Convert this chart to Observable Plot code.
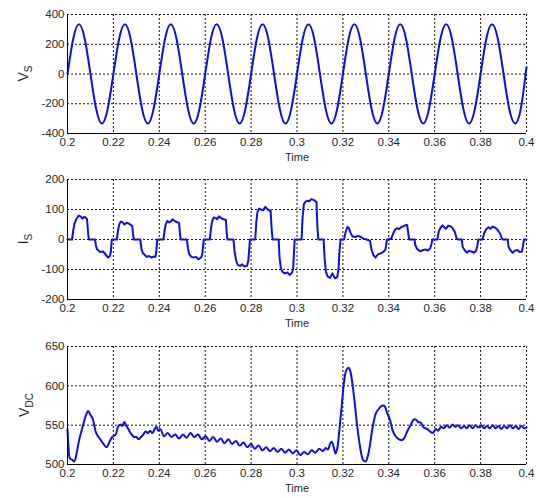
<!DOCTYPE html>
<html><head><meta charset="utf-8">
<script src="https://cdn.jsdelivr.net/npm/d3@7"></script>
<script src="https://cdn.jsdelivr.net/npm/@observablehq/plot@0.6"></script>
<style>
body{margin:0;background:#fff;font-family:"Liberation Sans",Arial,sans-serif;}
#wrap{position:relative;width:544px;height:498px;overflow:hidden;}
.panel{position:absolute;left:0;}
</style></head><body><div id="wrap"></div>
<script>
const xTicks = [0.2,0.22,0.24,0.26,0.28,0.3,0.32,0.34,0.36,0.38,0.4];
const vsTicks = [-400,-200,0,200,400];
const isTicks = [-200,-100,0,100,200];
const vdcTicks = [500,550,600,650];

// Vs (supply voltage)
const vsT = [0.2,0.2025,0.205,0.2075,0.21,0.2125,0.215,0.2175,
0.22,0.2225,0.225,0.2275,0.23,0.2325,0.235,0.2375,
0.24,0.2425,0.245,0.2475,0.25,0.2525,0.255,0.2575,
0.26,0.2625,0.265,0.2675,0.27,0.2725,0.275,0.2775,
0.28,0.2825,0.285,0.2875,0.29,0.2925,0.295,0.2975,
0.3,0.3025,0.305,0.3075,0.31,0.3125,0.315,0.3175,
0.32,0.3225,0.325,0.3275,0.33,0.3325,0.335,0.3375,
0.34,0.3425,0.345,0.3475,0.35,0.3525,0.355,0.3575,
0.36,0.3625,0.365,0.3675,0.37,0.3725,0.375,0.3775,
0.38,0.3825,0.385,0.3875,0.39,0.3925,0.395,0.3975,0.4];
const vsV = [0,237,335,237,0,-235,-332,-235,
0,237,335,237,0,-235,-332,-235,
0,237,335,237,0,-235,-332,-235,
0,237,335,237,0,-235,-332,-235,
0,237,335,237,0,-235,-332,-235,
0,237,335,237,0,-235,-332,-235,
0,237,335,237,0,-235,-332,-235,
0,237,335,237,0,-235,-332,-235,
0,237,335,237,0,-235,-332,-235,
0,237,335,237,0,-235,-332,-235,45];

// Is (supply current) [time, value]
const isPoints = [
[0.2000,0],[0.2020,0],[0.2025,30],[0.2030,52],[0.2040,70],[0.2049,80],[0.2058,76],[0.2065,70],[0.2072,75],[0.2078,74],[0.2085,68],[0.2090,20],[0.2093,0],
[0.2120,0],[0.2124,-20],[0.2128,-32],[0.2142,-42],[0.2155,-40],[0.2166,-50],[0.2177,-60],[0.2185,-55],[0.2189,-40],[0.2193,0],
[0.2215,0],[0.2220,30],[0.2226,52],[0.2232,60],[0.2240,57],[0.2248,50],[0.2258,56],[0.2268,53],[0.2282,45],[0.2286,15],[0.2289,0],
[0.2317,0],[0.2322,-30],[0.2328,-45],[0.2335,-50],[0.2345,-58],[0.2355,-55],[0.2365,-60],[0.2375,-57],[0.2383,-58],[0.2387,-40],[0.2391,0],
[0.2418,0],[0.2423,30],[0.2428,50],[0.2435,62],[0.2443,57],[0.2450,60],[0.2458,67],[0.2470,60],[0.2486,55],[0.2490,20],[0.2493,0],
[0.2520,0],[0.2525,-30],[0.2530,-48],[0.2540,-58],[0.2550,-60],[0.2560,-58],[0.2570,-66],[0.2582,-60],[0.2587,-50],[0.2591,-20],[0.2594,0],
[0.2620,0],[0.2625,35],[0.2630,60],[0.2637,73],[0.2645,72],[0.2652,68],[0.2660,77],[0.2672,70],[0.2690,65],[0.2694,20],[0.2697,0],
[0.2723,0],[0.2728,-40],[0.2735,-70],[0.2742,-85],[0.2752,-88],[0.2760,-83],[0.2772,-90],[0.2782,-88],[0.2788,-70],[0.2792,-30],[0.2795,0],
[0.2818,0],[0.2823,60],[0.2828,92],[0.2835,103],[0.2843,100],[0.2852,97],[0.2862,109],[0.2872,100],[0.2885,95],[0.2890,30],[0.2894,0],
[0.2920,0],[0.2924,-60],[0.2930,-97],[0.2937,-108],[0.2947,-113],[0.2958,-110],[0.2968,-118],[0.2977,-112],[0.2983,-100],[0.2987,-40],[0.2990,0],
[0.3020,0],[0.3024,70],[0.3030,118],[0.3037,126],[0.3045,129],[0.3052,127],[0.3062,134],[0.3072,132],[0.3085,125],[0.3089,40],[0.3093,0],
[0.3116,0],[0.3120,-60],[0.3126,-108],[0.3134,-124],[0.3144,-128],[0.3154,-113],[0.3165,-129],[0.3175,-126],[0.3181,-100],[0.3185,-40],[0.3190,0],
[0.3205,0],[0.3212,25],[0.3220,42],[0.3226,38],[0.3233,23],[0.3242,10],[0.3255,8],[0.3265,12],[0.3277,9],[0.3290,3],[0.3300,1],[0.3318,-4],[0.3325,-35],[0.3333,-52],[0.3342,-60],[0.3352,-50],[0.3362,-47],[0.3375,-42],[0.3385,-35],[0.3392,0],
[0.3400,0],[0.3412,5],[0.3418,18],[0.3425,30],[0.3435,38],[0.3445,35],[0.3455,42],[0.3465,44],[0.3475,49],[0.3480,48],[0.3485,20],[0.3489,0],
[0.3512,0],[0.3516,-20],[0.3522,-30],[0.3530,-36],[0.3540,-39],[0.3550,-35],[0.3560,-33],[0.3570,-37],[0.3580,-30],[0.3586,-15],[0.3590,0],
[0.3612,0],[0.3618,28],[0.3626,40],[0.3634,47],[0.3642,40],[0.3650,36],[0.3658,46],[0.3666,45],[0.3676,40],[0.3688,25],[0.3695,5],[0.3700,0],
[0.3718,0],[0.3722,-25],[0.3730,-35],[0.3740,-44],[0.3750,-38],[0.3760,-40],[0.3770,-44],[0.3780,-38],[0.3786,-20],[0.3790,0],
[0.3808,0],[0.3815,20],[0.3825,35],[0.3835,41],[0.3843,36],[0.3852,43],[0.3862,40],[0.3872,34],[0.3885,20],[0.3892,5],[0.3896,0],
[0.3918,0],[0.3922,-25],[0.3930,-36],[0.3940,-44],[0.3950,-37],[0.3960,-35],[0.3970,-42],[0.3980,-40],[0.3985,-20],[0.3989,0],[0.4000,0]
];

// Vdc (DC-link voltage) [time, value]
const vdcPoints = [
[0.2000,545],[0.2005,520],[0.2010,508],[0.2020,506],[0.2030,504],[0.2038,512],[0.2050,530],[0.2065,547],[0.2080,562],[0.2090,568],[0.2100,563],[0.2110,558],[0.2125,540],[0.2140,533],[0.2155,527],[0.2170,522],[0.2185,530],[0.2195,535],[0.2210,538],[0.2220,548],[0.2230,551],[0.2238,549],[0.2248,554],[0.2255,550],[0.2265,545],[0.2275,540],[0.2290,535],[0.2300,535],[0.2310,532],[0.2320,535],[0.2330,538],[0.2340,542],[0.2350,540],[0.2360,543],[0.2370,540],[0.2380,545],[0.2388,548],[0.2395,543],[0.2405,545],
[0.2420,536],[0.2437,540],[0.2453,535],[0.2470,538],[0.2486,533],[0.2503,538],[0.2519,534],[0.2536,540],[0.2552,535],[0.2569,538],[0.2585,532],[0.2602,536],[0.2618,530],[0.2635,535],[0.2651,529],[0.2668,533],[0.2684,527],[0.2701,532],[0.2717,526],[0.2734,530],[0.2750,524],[0.2767,528],[0.2783,522],[0.2800,526],[0.2816,520],[0.2833,524],[0.2849,518],[0.2866,522],[0.2882,517],[0.2899,521],[0.2915,516],[0.2932,520],[0.2948,515],[0.2965,519],[0.2981,514],[0.2998,518],[0.3014,512],[0.3031,516],[0.3047,513],[0.3064,518],[0.3080,515],[0.3097,520],[0.3113,517],[0.3125,521],[0.3135,519],[0.3145,527],[0.3152,529],[0.3160,522],[0.3168,514],[0.3175,520],
[0.3185,545],[0.3195,575],[0.3205,605],[0.3215,620],[0.3225,623],[0.3232,619],[0.3240,606],[0.3250,582],[0.3262,550],[0.3275,522],[0.3288,506],[0.3300,504],[0.3308,510],[0.3318,525],[0.3330,548],[0.3345,566],[0.3360,572],[0.3372,575],[0.3382,574],[0.3392,566],[0.3405,557],[0.3418,542],[0.3432,535],[0.3445,532],[0.3458,531],[0.3468,534],[0.3480,542],[0.3495,550],[0.3508,557],[0.3518,557],[0.3528,554],[0.3540,553],[0.3552,547],[0.3568,545],[0.3580,542],[0.3592,540],
[0.3605,545],[0.3615,543],[0.3628,548],[0.3640,546],[0.3652,550],[0.3665,547],[0.3678,551],[0.3690,548],[0.3702,550],[0.3715,546],[0.3728,549],[0.3740,546],[0.3752,550],[0.3765,546],[0.3778,550],[0.3790,547],[0.3803,550],[0.3815,546],[0.3828,549],[0.3840,546],[0.3853,550],[0.3865,546],[0.3878,549],[0.3890,545],[0.3903,549],[0.3915,546],[0.3928,550],[0.3940,546],[0.3953,549],[0.3965,545],[0.3978,549],[0.3990,546],[0.4000,547]
];

const vsPoints = vsT.map((t, i) => [t, vsV[i]]);

const LINE = "#0f0fdc";
const FONT = "Liberation Sans, Arial, sans-serif";

function panel({data, yDomain, yTicks, top, height, mTop, mBottom, main, sub, curve, labelX}) {
  const plot = Plot.plot({
    width: 544, height,
    marginLeft: 67, marginRight: 18, marginTop: mTop, marginBottom: mBottom,
    style: {fontFamily: FONT, fontSize: "11.5px", color: "#262626", background: "transparent", overflow: "visible"},
    x: {domain: [0.2, 0.4]},
    y: {domain: yDomain},
    marks: [
      Plot.ruleX(xTicks, {stroke: "#111", strokeWidth: 1, strokeDasharray: "2,2"}),
      Plot.ruleY(yTicks, {stroke: "#111", strokeWidth: 1, strokeDasharray: "2,2"}),
      Plot.axisX({ticks: xTicks, tickFormat: d => String(d), tickSize: 0, tickPadding: 4, label: null}),
      Plot.axisY({ticks: yTicks, tickFormat: d => String(d), tickSize: 0, tickPadding: 3, label: null}),
      Plot.line(data, {x: d => d[0], y: d => d[1], stroke: LINE, strokeWidth: 2, curve}),
      Plot.ruleX([0.2], {stroke: "#000", strokeWidth: 1}),
      Plot.ruleY([yDomain[0]], {stroke: "#000", strokeWidth: 1}),
      Plot.text(["Time"], {text: d => d, frameAnchor: "bottom", lineAnchor: "top", dy: 20, fontSize: 11, fill: "#262626"})
    ]
  });
  const div = document.createElement("div");
  div.className = "panel";
  div.style.top = top + "px";
  div.appendChild(plot);
  document.getElementById("wrap").appendChild(div);
  const cy = mTop + (height - mTop - mBottom) / 2;
  const t = d3.select(plot).append("text")
    .attr("transform", `translate(${labelX},${cy}) rotate(-90)`)
    .attr("text-anchor", "middle")
    .attr("font-family", FONT)
    .attr("fill", "#262626");
  t.append("tspan").attr("font-size", 14).text(main);
  t.append("tspan").attr("font-size", 10).attr("dy", "0.35em").text(sub);
}

panel({data: vsPoints, yDomain: [-400, 400], yTicks: vsTicks, top: 0, height: 165, mTop: 14, mBottom: 32, main: "V", sub: "S", curve: "natural", labelX: 28});
panel({data: isPoints, yDomain: [-200, 200], yTicks: isTicks, top: 165, height: 166, mTop: 14, mBottom: 32, main: "I", sub: "S", curve: "linear", labelX: 28});
panel({data: vdcPoints, yDomain: [500, 650], yTicks: vdcTicks, top: 331, height: 167, mTop: 15, mBottom: 34, main: "V", sub: "DC", curve: "catmull-rom", labelX: 29});
</script>
</body></html>
